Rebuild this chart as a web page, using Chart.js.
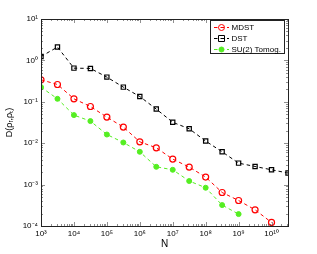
<!DOCTYPE html>
<html><head><meta charset="utf-8">
<script src="https://cdn.jsdelivr.net/npm/chart.js@4"></script>
<style>html,body{margin:0;padding:0;background:#fff}#wrap{width:317px;height:254px}</style>
</head><body><div id="wrap"><canvas id="c" width="317" height="254"></canvas></div>
<script>
const nValues = [1e3, 3.162e3, 1e4, 3.162e4, 1e5, 3.162e5, 1e6, 3.162e6, 1e7, 3.162e7, 1e8, 3.162e8, 1e9, 3.162e9, 1e10, 3.162e10];
const mdst = [0.34, 0.262, 0.118, 0.077, 0.0427, 0.0245, 0.0108, 0.00775, 0.00413, 0.00265, 0.00152, 0.000645, 0.000413, 0.000246, 0.000122];
const dst = [1.24, 2.1, 0.65, 0.64, 0.395, 0.226, 0.134, 0.0667, 0.032, 0.0223, 0.01125, 0.0062, 0.0033, 0.00274, 0.00228, 0.0019];
const su2 = [0.226, 0.118, 0.0477, 0.0342, 0.0162, 0.0104, 0.0062, 0.00269, 0.00228, 0.00122, 0.00084, 0.00032, 0.000194];
const xTicks = [1e3, 1e4, 1e5, 1e6, 1e7, 1e8, 1e9, 1e10];
const yTicks = [1e-4, 1e-3, 1e-2, 1e-1, 1e0, 1e1];
const seriesNames = ['MDST', 'DST', 'SU(2) Tomog.'];
const xLabel = 'N';
const yLabel = 'D(\u03C1\u1D63,\u03C1\u209C)';

const sup = {'0':'\u2070','1':'\u00B9','2':'\u00B2','3':'\u00B3','4':'\u2074','5':'\u2075','6':'\u2076','7':'\u2077','8':'\u2078','9':'\u2079','-':'\u207B'};
function powLabel(v){ const e = Math.round(Math.log10(v)); return '10' + String(e).split('').map(ch=>sup[ch]).join(''); }
function pts(arr){ return arr.map((y,i)=>({x:nValues[i], y})); }

const FONT = 'Liberation Sans, Arial, sans-serif';

const boxTicks = {
  id:'boxTicks',
  afterDatasetsDraw(chart){
    const {ctx, chartArea:a, scales} = chart;
    ctx.save();
    ctx.strokeStyle = '#444'; ctx.lineWidth = 0.6;
    const xs = scales.x, ys = scales.y;
    const dec = (sc)=>{ const out=[]; const lo=Math.floor(Math.log10(sc.min)), hi=Math.ceil(Math.log10(sc.max));
      for(let d=lo; d<=hi; d++) for(let k=1;k<=9;k++){ const v=k*Math.pow(10,d); if(v>=sc.min*0.999 && v<=sc.max*1.001) out.push({v, major:k===1}); } return out; };
    ctx.beginPath();
    dec(xs).forEach(t=>{ const px = Math.round(xs.getPixelForValue(t.v))+0.5; const L = t.major?4:2;
      ctx.moveTo(px, a.bottom); ctx.lineTo(px, a.bottom-L); ctx.moveTo(px, a.top); ctx.lineTo(px, a.top+L); });
    dec(ys).forEach(t=>{ const py = Math.round(ys.getPixelForValue(t.v))+0.5; const L = t.major?4:2;
      ctx.moveTo(a.left, py); ctx.lineTo(a.left+L, py); ctx.moveTo(a.right, py); ctx.lineTo(a.right-L, py); });
    ctx.stroke();
    ctx.strokeStyle = '#222'; ctx.lineWidth = 1;
    ctx.strokeRect(Math.round(a.left)+0.5, Math.round(a.top)+0.5, Math.round(a.right-a.left), Math.round(a.bottom-a.top));
    // legend
    const lx = 210.5, ly = 20.5, lw = 74, lh = 33;
    ctx.fillStyle = '#fff'; ctx.fillRect(lx, ly, lw, lh);
    ctx.strokeStyle = '#222'; ctx.lineWidth = 1; ctx.strokeRect(lx, ly, lw, lh);
    chart.data.datasets.forEach((ds, i)=>{
      const y = 27.5 + i*11;
      ctx.save();
      ctx.strokeStyle = ds.borderColor; ctx.lineWidth = ds.borderWidth; ctx.setLineDash(ds.borderDash);
      ctx.beginPath(); ctx.moveTo(214, y); ctx.lineTo(229, y); ctx.stroke();
      ctx.setLineDash([]);
      ctx.lineWidth = 1; ctx.strokeStyle = ds.pointBorderColor; ctx.fillStyle = ds.pointBackgroundColor;
      const cx = 221.5, r = ds.pointRadius;
      ctx.beginPath();
      if (ds.pointStyle === 'rect') { ctx.rect(cx-r, y-r, 2*r, 2*r); } else { ctx.arc(cx, y, r, 0, Math.PI*2); }
      ctx.fill(); ctx.stroke();
      ctx.restore();
      ctx.fillStyle = '#000'; ctx.font = '8px ' + FONT; ctx.textBaseline = 'middle'; ctx.textAlign = 'left';
      ctx.fillText(ds.label, 231.5, y+0.5);
    });
    ctx.restore();
  }
};

new Chart(document.getElementById('c'), {
  type: 'line',
  data: { datasets: [
    { label: seriesNames[0], data: pts(mdst), borderColor:'#ff0000', borderWidth:1, borderDash:[3.5,3],
      pointStyle:'circle', pointRadius:3, pointBorderColor:'#ff0000', pointBackgroundColor:'rgba(255,255,255,0)', pointBorderWidth:1.2 },
    { label: seriesNames[1], data: pts(dst), borderColor:'#000000', borderWidth:1, borderDash:[3.5,3],
      pointStyle:'rect', pointRadius:3, pointBorderColor:'#000000', pointBackgroundColor:'rgba(255,255,255,0)', pointBorderWidth:1.2 },
    { label: seriesNames[2], data: pts(su2), borderColor:'#55ee22', borderWidth:1, borderDash:[3.5,3],
      pointStyle:'circle', pointRadius:2.5, pointBorderColor:'#55ee22', pointBackgroundColor:'#55ee22', pointBorderWidth:1 }
  ]},
  options: {
    responsive:false, animation:false, devicePixelRatio:1,
    layout:{ padding:{ left:0, right:29, top:19, bottom:0 } },
    plugins:{ legend:{display:false}, tooltip:{enabled:false} },
    scales:{
      x:{ type:'logarithmic', min:1e3, max:nValues[nValues.length-1],
        afterBuildTicks(s){ s.ticks = xTicks.map(v=>({value:v})); },
        afterFit(s){ s.height = 28; },
        grid:{ display:false, drawTicks:false }, border:{ display:false },
        ticks:{ autoSkip:false, maxRotation:0, padding:3, color:'#000', font:{family:FONT, size:8}, callback:(v)=>powLabel(v) },
        title:{ display:true, text:xLabel, color:'#000', font:{family:FONT, size:10}, padding:{top:0,bottom:4} } },
      y:{ type:'logarithmic', min:1e-4, max:10,
        afterBuildTicks(s){ s.ticks = yTicks.map(v=>({value:v})); },
        afterFit(s){ s.width = 41; },
        grid:{ display:false, drawTicks:false }, border:{ display:false },
        ticks:{ autoSkip:false, padding:3, color:'#000', font:{family:FONT, size:8}, callback:(v)=>powLabel(v) },
        title:{ display:true, text:yLabel, color:'#000', font:{family:FONT, size:9}, padding:{top:4,bottom:0} } }
    }
  },
  plugins:[boxTicks]
});
</script></body></html>
